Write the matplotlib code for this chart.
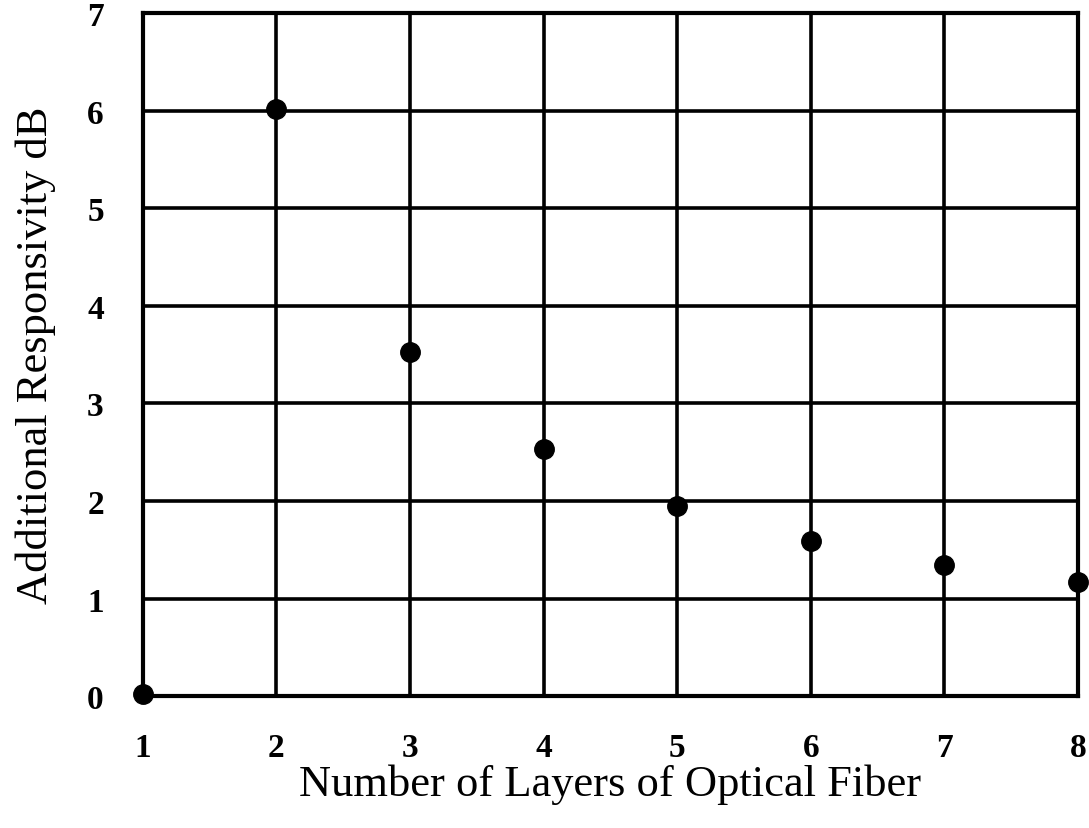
import matplotlib
matplotlib.use("Agg")
import matplotlib.pyplot as plt

layers = [1, 2, 3, 4, 5, 6, 7, 8]
responsivity = [0.02, 6.02, 3.53, 2.53, 1.95, 1.59, 1.34, 1.17]
xticks = [1, 2, 3, 4, 5, 6, 7, 8]
yticks = [0, 1, 2, 3, 4, 5, 6, 7]

plt.rcParams["font.family"] = ["Liberation Serif", "DejaVu Serif"]

fig = plt.figure(figsize=(10.89, 8.29), dpi=100)
ax = fig.add_axes([0.131, 0.159, 0.859, 0.824])

ax.plot(layers, responsivity, "o", color="black", markersize=14, clip_on=False, zorder=5)

ax.set_xlim(1, 8)
ax.set_ylim(0, 7)
ax.set_xticks(xticks)
ax.set_yticks(yticks)
ax.grid(True, color="black", linewidth=2.6)
ax.set_axisbelow(True)
for s in ax.spines.values():
    s.set_linewidth(3)

ax.tick_params(length=0, labelsize=24, pad=28)
ax.tick_params(axis="x", pad=26)
for lab in ax.get_xticklabels() + ax.get_yticklabels():
    lab.set_fontweight("bold")

ax.set_xlabel("Number of Layers of Optical Fiber", fontsize=32, labelpad=0)
ax.set_ylabel("Additional Responsivity dB", fontsize=32, labelpad=22)

fig.savefig("out.png", dpi=100)
